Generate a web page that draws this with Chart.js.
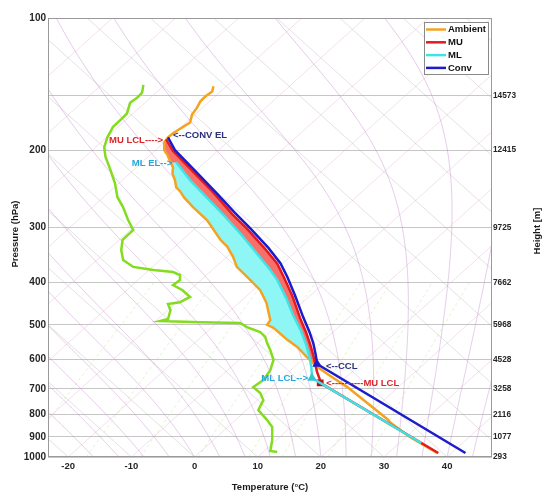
<!DOCTYPE html>
<html>
<head>
<meta charset="UTF-8">
<title>Skew-T Parcel Profiles</title>
<script src="https://cdn.jsdelivr.net/npm/chart.js"></script>
<style>
  html, body { margin: 0; padding: 0; background: #fff; }
  #skewt { display: block; }
</style>
</head>
<body>
<canvas id="skewt" width="543" height="492"></canvas>
<script>
// Profiles are given as plotted (skewed) temperature in °C against pressure in hPa, top first
const ambientT = [3.0, 2.8, 1.7, 0.9, 0.4, -0.4, -0.7, -1.8, -2.6, -3.4, -4.2, -4.8, -4.8, -4.3, -3.8, -3.4, -3.5, -3.1, -2.9, -2.3, -1.6, -0.2, 2.0, 4.1, 5.2, 6.1, 6.7, 8.8, 10.4, 11.4, 11.7, 12.0, 11.5, 12.5, 14.7, 16.3, 17.8, 19.3, 21.5, 24.2, 30.5, 31.1, 34.1, 38.4];
const ambientP = [143, 147, 151, 155, 160, 166, 173, 177, 180, 183, 187, 192, 200, 205, 213, 219, 226, 234, 243, 248, 257, 270, 289, 320, 332, 350, 369, 395, 417, 446, 467, 488, 500, 508, 541, 562, 592, 621, 654, 693, 819, 837, 900, 979];

const muT = [-4.5, -3.4, -0.2, 3.0, 6.0, 8.3, 11.2, 13.1, 14.2, 15.5, 16.7, 17.7, 18.3, 18.8, 19.1, 19.4, 19.8, 19.9, 38.6];
const muP = [189, 201, 224, 250, 280, 302, 336, 363, 391, 430, 482, 522, 553, 586, 614, 640, 664, 678, 979];

const mlT = [-2.9, -0.7, 2.0, 4.9, 7.7, 10.1, 12.0, 13.1, 14.5, 15.6, 16.8, 17.7, 18.2, 18.5, 18.6, 35.9];
const mlP = [213, 234, 257, 284, 315, 347, 375, 395, 434, 475, 514, 556, 592, 624, 661, 929];

const convT = [-4.2, -3.1, 0.1, 3.3, 6.4, 8.8, 11.7, 13.6, 14.7, 15.9, 17.2, 18.2, 18.8, 19.2, 19.4, 42.9];
const convP = [187, 200, 223, 249, 278, 301, 334, 362, 389, 428, 480, 519, 550, 586, 614, 979];

const dewT = [-8.1, -8.3, -9.1, -10.2, -10.7, -11.8, -12.9, -13.8, -14.3, -14.1, -13.3, -12.6, -12.2, -11.3, -10.5, -9.7, -11.4, -11.6, -11.3, -9.7, -6.5, -3.4, -2.3, -2.3, -3.4, -1.9, -0.7, -2.3, -4.2, -3.8, -4.2, -5.4, 0.9, 7.2, 8.3, 10.4, 11.2, 11.5, 12.0, 12.5, 12.0, 10.9, 9.3, 10.4, 10.9, 10.1, 11.5, 12.3, 12.3, 12.0, 13.1];
const dewP = [142, 148, 152, 156, 165, 171, 177, 187, 197, 207, 222, 238, 256, 270, 289, 304, 320, 338, 356, 369, 375, 379, 385, 395, 406, 417, 432, 444, 448, 463, 485, 490, 493, 495, 506, 519, 533, 550, 571, 601, 634, 668, 693, 715, 742, 782, 824, 854, 915, 969, 974];

// special levels (indices into the arrays above)
const muLcl = 17;      // MU lifting condensation level
const muLfc = 14;      // lowest level of MU positive area
const mlLcl = 14;      // ML lifting condensation level
const mlLfc = 12;      // lowest level of ML positive area
const convCcl = 14;    // convective condensation level

const tempTicks = [-20, -10, 0, 10, 20, 30, 40];
const pressureTicks = [100, 200, 300, 400, 500, 600, 700, 800, 900, 1000];
const heightLevels = [150, 200, 300, 400, 500, 600, 700, 800, 900, 1000];
const heightLabels = ['14573', '12415', '9725', '7662', '5968', '4528', '3258', '2116', '1077', '293'];

const FONT = '"Liberation Sans", Arial, sans-serif';
const C_AMB = '#f4a320', C_MU = '#e21b1f', C_ML = '#3fe3e6', C_CONV = '#1c1ccc', C_DEW = '#84dc1e';
const SKEW = 77; // horizontal shift (°C) per decade of pressure

const toPts = (T, P) => T.map((t, i) => ({ x: t, y: P[i] }));
const skewX = (t, p) => t + SKEW * Math.log10(1000 / p);

// pseudo-adiabat starting at 1000 hPa, returned as [T(°C), p] pairs
function moistAdiabat(t0) {
  const pts = [];
  let t = t0 + 273.15;
  for (let p = 1000; p >= 100; p -= 2) {
    pts.push([t - 273.15, p]);
    const tc = t - 273.15;
    const es = 6.112 * Math.exp(17.67 * tc / (tc + 243.5));
    const rs = 0.622 * es / (p - es);
    const dtdp = (287 * t + 2.5e6 * rs) / (p * (1005 + 2.5e6 * 2.5e6 * rs * 0.622 / (287 * t * t)));
    t -= dtdp * 2;
  }
  return pts;
}

// diagram background: skewed isotherms, opposite diagonals, moist adiabats, mixing ratio lines
const diagramLines = {
  id: 'diagramLines',
  beforeDatasetsDraw(chart) {
    const { ctx, chartArea: a, scales: { x, y } } = chart;
    const path = (pts, color, dash, plain) => {
      ctx.beginPath();
      pts.forEach(([t, p], i) => {
        const X = x.getPixelForValue(plain ? t : skewX(t, p)), Y = y.getPixelForValue(p);
        if (i) ctx.lineTo(X, Y); else ctx.moveTo(X, Y);
      });
      ctx.strokeStyle = color;
      ctx.setLineDash(dash || []);
      ctx.stroke();
    };
    const levels = [];
    for (let p = 1000; p >= 100; p -= 10) levels.push(p);
    ctx.save();
    ctx.beginPath();
    ctx.rect(a.left, a.top, a.width, a.height);
    ctx.clip();
    ctx.lineWidth = 0.8;
    for (let t = -100; t <= 50; t += 10) path([[t, 1000], [t, 100]], 'rgba(225,170,200,0.45)');
    for (let t = -30; t <= 130; t += 10) {
      path([[t, 1000], [t - 2 * SKEW, 100]], 'rgba(170,165,170,0.4)');
    }
    for (const w of [0.4, 1, 2, 4, 7, 10, 16, 24]) {
      path(levels.filter(p => p >= 400).map(p => {
        const l = Math.log(w * p / (622 + w) / 6.112);
        return [243.5 * l / (17.67 - l), p];
      }), 'rgba(170,215,100,0.4)', [3, 3]);
    }
    for (let t0 = -16; t0 <= 44; t0 += 4) path(moistAdiabat(t0), 'rgba(190,125,200,0.5)');
    ctx.restore();
  }
};

// frame, level annotations, legend and axis titles
const decorations = {
  id: 'decorations',
  afterDraw(chart) {
    const { ctx, chartArea: a, scales: { x, y } } = chart;
    ctx.save();
    ctx.strokeStyle = '#9a9a9a';
    ctx.lineWidth = 1;
    ctx.strokeRect(a.left + 0.5, a.top + 0.5, a.width - 1, a.height - 1);

    const notes = [
      ['MU LCL---->', '#e0252b', muT[0], muP[0], -3, 1, 'right'],
      ['<--CONV EL', '#2b2f7e', convT[0], convP[0], 5, -2, 'left'],
      ['ML EL-->', '#27a6dc', mlT[0], mlP[0], -4, 1, 'right'],
      ['<--CCL', '#2b2f7e', convT[convCcl], convP[convCcl], 9, 2, 'left'],
      ['<----------MU LCL', '#e0252b', muT[muLcl], muP[muLcl], 6, 0, 'left'],
      ['ML LCL-->', '#27a6dc', mlT[mlLcl], mlP[mlLcl], -4, 0, 'right']
    ];
    ctx.font = 'bold 9.5px ' + FONT;
    ctx.textBaseline = 'middle';
    for (const [text, color, t, p, dx, dy, align] of notes) {
      ctx.fillStyle = color;
      ctx.textAlign = align;
      ctx.fillText(text, x.getPixelForValue(t) + dx, y.getPixelForValue(p) + dy);
    }

    // legend box in the upper right corner
    const items = [['Ambient', C_AMB], ['MU', C_MU], ['ML', C_ML], ['Conv', C_CONV]];
    const lx = a.right - 68, ly = a.top + 4;
    ctx.fillStyle = '#fff';
    ctx.fillRect(lx, ly, 64, 52);
    ctx.strokeStyle = '#8a8a8a';
    ctx.strokeRect(lx + 0.5, ly + 0.5, 64, 52);
    ctx.textAlign = 'left';
    items.forEach(([label, color], i) => {
      const ry = ly + 7.5 + i * 12.8;
      ctx.strokeStyle = color;
      ctx.lineWidth = 2.5;
      ctx.beginPath();
      ctx.moveTo(lx + 2, ry);
      ctx.lineTo(lx + 22, ry);
      ctx.stroke();
      ctx.fillStyle = '#111';
      ctx.fillText(label, lx + 24, ry);
    });

    ctx.fillStyle = '#1a1a1a';
    ctx.textAlign = 'center';
    ctx.fillText('Temperature (\u00B0C)', (a.left + a.right) / 2, 487);
    ctx.translate(15, 234);
    ctx.rotate(-Math.PI / 2);
    ctx.fillText('Pressure (hPa)', 0, 0);
    ctx.setTransform(1, 0, 0, 1, 0, 0);
    ctx.translate(537, 231);
    ctx.rotate(-Math.PI / 2);
    ctx.fillText('Height [m]', 0, 0);
    ctx.restore();
  }
};

const lineSet = (label, T, P, color, order, extra) => Object.assign({
  label, data: toPts(T, P), borderColor: color, backgroundColor: color,
  borderWidth: 2.5, pointRadius: 0, fill: false, order
}, extra || {});

const marker = (idx) => (c) => (c.dataIndex === idx ? 3 : 0);

new Chart(document.getElementById('skewt'), {
  type: 'line',
  data: {
    datasets: [
      lineSet('Ambient', ambientT, ambientP, C_AMB, 4),
      lineSet('MU', muT, muP, C_MU, 3, { pointRadius: marker(muLcl), pointStyle: 'rect', pointBackgroundColor: '#b5121b', pointBorderColor: '#b5121b' }),
      lineSet('ML', mlT, mlP, C_ML, 1, { pointRadius: marker(mlLcl), pointStyle: 'triangle', pointBackgroundColor: '#30c8d0', pointBorderColor: '#30c8d0' }),
      lineSet('Conv', convT, convP, C_CONV, 2, { pointRadius: marker(convCcl), pointStyle: 'triangle', pointBackgroundColor: C_CONV, pointBorderColor: C_CONV }),
      lineSet('Dewpoint', dewT, dewP, C_DEW, 5),
      // positive areas, filled against the ambient profile (dataset 0)
      lineSet('ML area', mlT.slice(0, mlLfc + 1), mlP.slice(0, mlLfc + 1), 'rgba(0,0,0,0)', 9, { borderWidth: 0, backgroundColor: '#8ef6f4', fill: 0 }),
      lineSet('MU area', muT.slice(0, muLfc + 1), muP.slice(0, muLfc + 1), 'rgba(0,0,0,0)', 10, { borderWidth: 0, backgroundColor: '#f7716a', fill: 0 })
    ]
  },
  options: {
    indexAxis: 'y',
    responsive: false,
    animation: false,
    devicePixelRatio: 1,
    events: [],
    layout: { padding: { top: 18, left: 0, right: 0, bottom: 0 } },
    plugins: { legend: { display: false }, tooltip: { enabled: false } },
    scales: {
      x: {
        type: 'linear', position: 'bottom', min: -23.2, max: 47.1,
        grid: { display: false, drawTicks: false },
        border: { display: false },
        afterBuildTicks: (s) => { s.ticks = tempTicks.map(v => ({ value: v })); },
        afterFit: (s) => { s.height = 35; },
        ticks: { padding: 4, color: '#262626', maxRotation: 0, autoSkip: false,
                 font: { family: FONT, size: 9.5, weight: 'bold' } }
      },
      y: {
        type: 'logarithmic', position: 'left', min: 100, max: 1000, reverse: true,
        grid: { display: false, drawTicks: false },
        border: { display: false },
        afterBuildTicks: (s) => { s.ticks = pressureTicks.map(v => ({ value: v })); },
        afterFit: (s) => { s.width = 48; },
        ticks: { padding: 2, color: '#262626', autoSkip: false, callback: (v) => String(v),
                 font: { family: FONT, size: 10, weight: 'bold' } }
      },
      y2: {
        type: 'logarithmic', position: 'right', min: 100, max: 1000, reverse: true,
        grid: { color: '#c6c6c6', lineWidth: 1, drawTicks: false },
        border: { display: false },
        afterBuildTicks: (s) => { s.ticks = heightLevels.map(v => ({ value: v })); },
        afterFit: (s) => { s.width = 51; },
        ticks: { padding: 1, color: '#262626', autoSkip: false,
                 callback: (v) => heightLabels[heightLevels.indexOf(v)],
                 font: { family: FONT, size: 8.3, weight: 'bold' } }
      }
    }
  },
  plugins: [diagramLines, decorations]
});
</script>
</body>
</html>
